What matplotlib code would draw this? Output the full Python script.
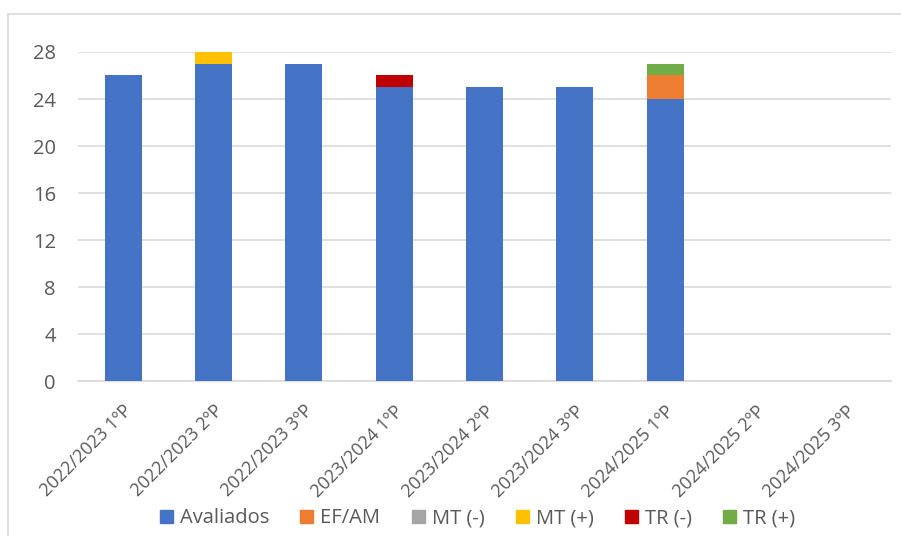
import numpy as np
import matplotlib
matplotlib.use("Agg")
import matplotlib.pyplot as plt
from matplotlib.lines import Line2D

categories = ["2022/2023 1ºP", "2022/2023 2ºP", "2022/2023 3ºP",
              "2023/2024 1ºP", "2023/2024 2ºP", "2023/2024 3ºP",
              "2024/2025 1ºP", "2024/2025 2ºP", "2024/2025 3ºP"]
avaliados = [26, 27, 27, 25, 25, 25, 24, 0, 0]
ef_am = [0, 0, 0, 0, 0, 0, 2, 0, 0]
mt_neg = [0, 0, 0, 0, 0, 0, 0, 0, 0]
mt_pos = [0, 1, 0, 0, 0, 0, 0, 0, 0]
tr_neg = [0, 0, 0, 1, 0, 0, 0, 0, 0]
tr_pos = [0, 0, 0, 0, 0, 0, 1, 0, 0]

series = [("Avaliados", avaliados, "#4472C4"),
          ("EF/AM", ef_am, "#ED7D31"),
          ("MT (-)", mt_neg, "#A5A5A5"),
          ("MT (+)", mt_pos, "#FFC000"),
          ("TR (-)", tr_neg, "#C00000"),
          ("TR (+)", tr_pos, "#70AD47")]

plt.rcParams['font.family'] = ['Open Sans', 'DejaVu Sans']
txt = "#595959"
fs = 14.5

fig = plt.figure(figsize=(9.01, 5.36), dpi=100)
ax = fig.add_axes([0.0866, 0.289, 0.9023, 0.614])

x = np.arange(len(categories))
bottom = np.zeros(len(categories))
for name, vals, col in series:
    v = np.array(vals, dtype=float)
    ax.bar(x, v, bottom=bottom, width=0.41, color=col, label=name, zorder=3)
    bottom += v

ax.set_xlim(-0.5, len(categories) - 0.5)
ax.set_ylim(0, 28)
ax.set_yticks(np.arange(0, 29, 4))
ax.grid(axis='y', color='#d9d9d9', linewidth=1.2, zorder=0)
for s in ['top', 'right', 'left']:
    ax.spines[s].set_visible(False)
ax.spines['bottom'].set_color('#d9d9d9')
ax.spines['bottom'].set_linewidth(1.2)
ax.tick_params(axis='both', length=0, colors=txt, labelsize=fs)
ax.tick_params(axis='y', pad=16)
ax.set_xticks(x)
ax.set_xticklabels(categories, rotation=45, ha='right', va='top',
                   rotation_mode='anchor', color=txt, fontsize=13)
ax.tick_params(axis='x', pad=15)

handles = [plt.Rectangle((0, 0), 1, 1, color=c) for _, _, c in series]
fig.legend(handles, [n for n, _, _ in series], loc='center', bbox_to_anchor=(0.53, 0.033),
           ncol=6, frameon=False, fontsize=fs, labelcolor=txt, handlelength=0.65,
           handleheight=0.65, handletextpad=0.35, columnspacing=1.55)

# outer chart border
fig.add_artist(Line2D([0.009, 0.009], [0.0, 0.974], color='#d9d9d9', lw=1.2))
fig.add_artist(Line2D([0.009, 1.0], [0.974, 0.974], color='#d9d9d9', lw=1.2))

fig.savefig("out.png", dpi=100)
